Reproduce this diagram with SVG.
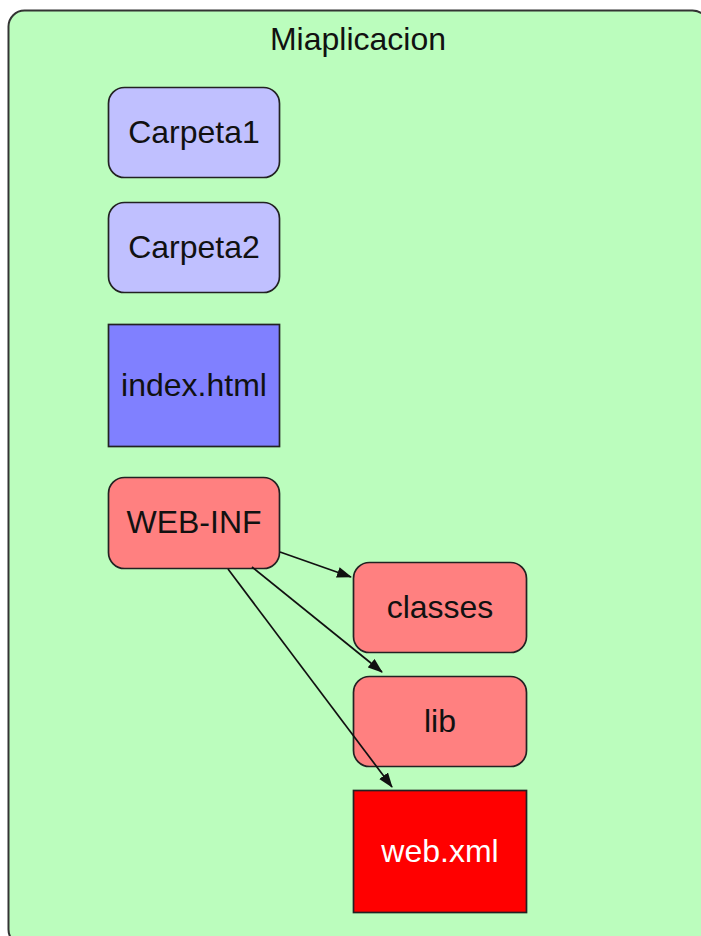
<svg xmlns="http://www.w3.org/2000/svg" width="701" height="936" viewBox="0 0 701 936">
<style>
text{font-family:"Liberation Sans",Arial,sans-serif;font-size:32px;text-anchor:middle;fill:#111}
.n{stroke:#222;stroke-width:1.7}
.c{stroke:#111;stroke-width:1.7;fill:none;marker-end:url(#ah)}
</style>
<defs>
<marker id="ah" markerWidth="15" markerHeight="11" refX="14" refY="5.5" orient="auto" markerUnits="userSpaceOnUse">
<path d="M0,0 L15,5.5 L0,11 Z" fill="#111"/>
</marker>
</defs>
<g id="Miaplicacion">
<rect x="8.5" y="10.5" width="700" height="935" rx="16" fill="#bbfdbd" stroke="#333" stroke-width="2"/>
<text x="358" y="50">Miaplicacion</text>
</g>
<g id="Carpeta1">
<rect class="n" x="108.5" y="87.5" width="171" height="90" rx="16" fill="#c0c0ff"/>
<text x="194" y="143">Carpeta1</text>
</g>
<g id="Carpeta2">
<rect class="n" x="108.5" y="202.5" width="171" height="90" rx="16" fill="#c0c0ff"/>
<text x="194" y="258">Carpeta2</text>
</g>
<g id="index">
<rect class="n" x="108.5" y="324.5" width="171" height="122" fill="#8080ff"/>
<text x="194" y="396">index.html</text>
</g>
<g id="WEB-INF">
<rect class="n" x="108.5" y="477.5" width="171" height="91" rx="16" fill="#ff8080"/>
<text x="194" y="533">WEB-INF</text>
</g>
<g id="classes">
<rect class="n" x="353.5" y="562.5" width="173" height="90" rx="16" fill="#ff8080"/>
<text x="440" y="618">classes</text>
</g>
<g id="lib">
<rect class="n" x="353.5" y="676.5" width="173" height="90" rx="16" fill="#ff8080"/>
<text x="440" y="732">lib</text>
</g>
<g id="webxml">
<rect class="n" x="353.5" y="790.5" width="173" height="122" fill="#ff0000"/>
<text x="440" y="862" style="fill:#fff">web.xml</text>
</g>
<g id="connectors">
<line class="c" x1="280" y1="552" x2="351" y2="577"/>
<line class="c" x1="252" y1="567" x2="382" y2="672"/>
<line class="c" x1="228" y1="569" x2="392" y2="787"/>
</g>
</svg>
